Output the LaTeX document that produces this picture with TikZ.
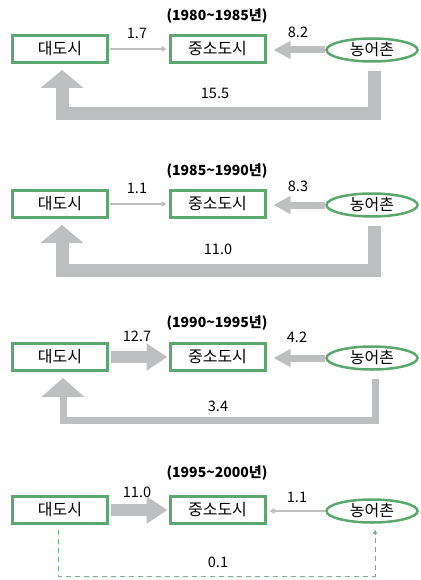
\documentclass[tikz,border=0pt]{standalone}
\usepackage{fontspec}
\setmainfont{Noto Sans CJK KR}
\usetikzlibrary{arrows.meta,shapes.geometric}
\definecolor{boxgreen}{RGB}{92,167,112}
\definecolor{flowgray}{RGB}{190,191,193}
\tikzset{
  citybox/.style={draw=boxgreen,line width=3pt,minimum width=95pt,minimum height=27pt,inner sep=0pt,font=\fontsize{16}{18}\selectfont},
  ruralnode/.style={ellipse,draw=boxgreen,line width=2.5pt,minimum width=91pt,minimum height=23pt,inner sep=0pt,font=\fontsize{16}{18}\selectfont},
  numlabel/.style={inner sep=0pt,font=\fontsize{14.5}{16}\selectfont},
  titlelabel/.style={inner sep=0pt,font=\bfseries\fontsize{14}{16}\selectfont},
  thinflow/.style={draw=flowgray,line width=1.6pt,-{Triangle[width=5.5pt,length=5pt]}},
  midflow/.style={draw=flowgray,line width=7pt,-{Triangle[width=17pt,length=17pt]}},
  wideflow/.style={draw=flowgray,line width=12pt,-{Triangle[width=26pt,length=21pt]}},
  bigflow/.style={draw=flowgray,line width=13pt,line join=miter,-{Triangle[width=42pt,length=18pt]}},
  smallbigflow/.style={draw=flowgray,line width=7pt,line join=miter,-{Triangle[width=42pt,length=19pt]}},
  dashflow/.style={draw=boxgreen!85,line width=1pt,dash pattern=on 5pt off 4pt,-{Triangle[width=4pt,length=4pt]}}
}
\begin{document}
\begin{tikzpicture}[x=1pt,y=-1pt]
\useasboundingbox (0,0) rectangle (420,580);
% ---------- Panel 1 ----------
\node[titlelabel] (t1) at (217,16) {(1980\textasciitilde1985년)};
\node[citybox] (a1) at (60,49) {대도시};
\node[citybox] (b1) at (217.5,49) {중소도시};
\node[ruralnode] (c1) at (372,50) {농어촌};
\draw[thinflow,shorten <=1pt,shorten >=2pt] (a1.east) -- (b1.west);
\draw[midflow,shorten >=7pt] (c1.west) -- (c1.west -| b1.east);
\coordinate (k1) at (62,114);
\coordinate (h1) at ([yshift=-6pt]a1.south);
\draw[bigflow] ([xshift=2pt,yshift=-8pt]c1.south) |- (k1) -- (k1 |- h1);
\node[numlabel] (n1a) at (137,33) {1.7};
\node[numlabel] (n1b) at (298,32) {8.2};
\node[numlabel] (n1c) at (215,93) {15.5};
% ---------- Panel 2 ----------
\node[titlelabel] (t2) at (217,171) {(1985\textasciitilde1990년)};
\node[citybox] (a2) at (60,204) {대도시};
\node[citybox] (b2) at (217.5,204) {중소도시};
\node[ruralnode] (c2) at (372,205) {농어촌};
\draw[thinflow,shorten <=1pt,shorten >=2pt] (a2.east) -- (b2.west);
\draw[midflow,shorten >=7pt] (c2.west) -- (c2.west -| b2.east);
\coordinate (k2) at (62,270);
\coordinate (h2) at ([yshift=-6pt]a2.south);
\draw[bigflow] ([xshift=2pt,yshift=-8pt]c2.south) |- (k2) -- (k2 |- h2);
\node[numlabel] (n2a) at (137,188) {1.1};
\node[numlabel] (n2b) at (298,186) {8.3};
\node[numlabel] (n2c) at (218,249) {11.0};
% ---------- Panel 3 ----------
\node[titlelabel] (t3) at (217,323) {(1990\textasciitilde1995년)};
\node[citybox] (a3) at (60,357) {대도시};
\node[citybox] (b3) at (217.5,357) {중소도시};
\node[ruralnode] (c3) at (372,358) {농어촌};
\draw[wideflow,shorten <=1.5pt,shorten >=1pt] (a3.east) -- (b3.west);
\draw[midflow,shorten >=7pt] (c3.west) -- (c3.west -| b3.east);
\coordinate (k3) at (63,420.5);
\coordinate (h3) at ([yshift=-6pt]a3.south);
\draw[smallbigflow] ([xshift=3pt,yshift=-8pt]c3.south) |- (k3) -- (k3 |- h3);
\node[numlabel] (n3a) at (137,336) {12.7};
\node[numlabel] (n3b) at (297,337) {4.2};
\node[numlabel] (n3c) at (218,406) {3.4};
% ---------- Panel 4 ----------
\node[titlelabel] (t4) at (217,473) {(1995\textasciitilde2000년)};
\node[citybox] (a4) at (60,510) {대도시};
\node[citybox] (b4) at (217.5,510) {중소도시};
\node[ruralnode] (c4) at (372,511) {농어촌};
\draw[wideflow,shorten <=1.5pt,shorten >=1pt] (a4.east) -- (b4.west);
\draw[thinflow,shorten >=3pt] (c4.west) -- (c4.west -| b4.east);
\coordinate (k4) at (375,576);
\coordinate (h4) at ([yshift=-6pt]c4.south);
\draw[dashflow] ([xshift=-2pt,yshift=-5pt]a4.south) |- (k4) -- (k4 |- h4);
\node[numlabel] (n4a) at (137,492) {11.0};
\node[numlabel] (n4b) at (297,497) {1.1};
\node[numlabel] (n4c) at (218,562) {0.1};
\end{tikzpicture}
\end{document}
